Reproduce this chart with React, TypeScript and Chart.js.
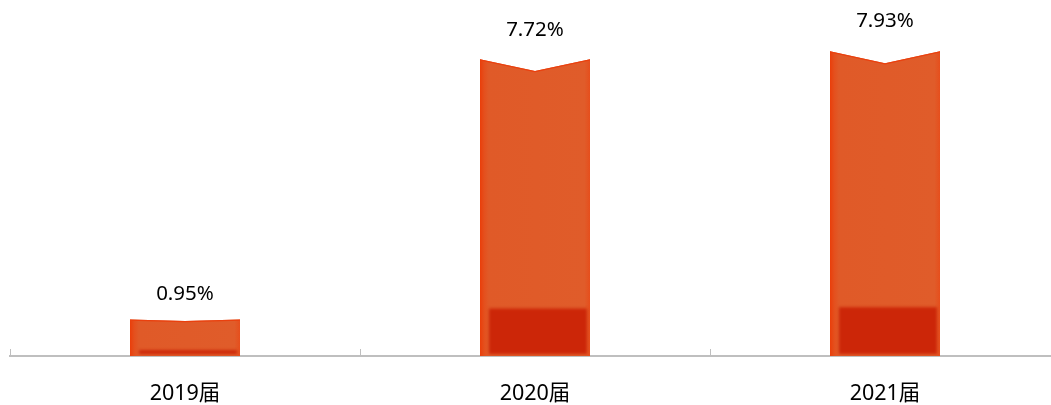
import React, { useEffect, useRef } from "react";
import { Chart, registerables } from "chart.js";
Chart.register(...registerables);

const categories = ["2019届", "2020届", "2021届"];
const values = [0.95, 7.72, 7.93];
const valueLabels = ["0.95%", "7.72%", "7.93%"];

const FONT = '"Noto Sans", "Noto Sans CJK SC", sans-serif';

export default function App() {
  const ref = useRef<HTMLCanvasElement>(null);
  useEffect(() => {
    document.body.style.margin = "0";
    const canvas = ref.current!;
    const barPlugin = {
      id: "notchedBars",
      afterDatasetsDraw(chart: any) {
        const ctx = chart.ctx as CanvasRenderingContext2D;
        const meta = chart.getDatasetMeta(0);
        const area = chart.chartArea;
        const xs = chart.scales.x;
        // tick marks pointing upward
        ctx.save();
        ctx.strokeStyle = "#BFBFBF";
        ctx.lineWidth = 1;
        const n = categories.length;
        const p0 = xs.getPixelForValue(0);
        const p1 = xs.getPixelForValue(1);
        const step = p1 - p0;
        for (let i = 0; i <= n; i++) {
          const px = Math.round(p0 - step / 2 + i * step) + 0.5;
          ctx.beginPath();
          ctx.moveTo(px, area.bottom - 7);
          ctx.lineTo(px, area.bottom);
          ctx.stroke();
        }
        ctx.restore();

        meta.data.forEach((bar: any, i: number) => {
          const { x, y, base, width } = bar.getProps(["x", "y", "base", "width"], true);
          const l = x - width / 2;
          const r = x + width / 2;
          const h = base - y;
          const notch = h * 0.04;
          ctx.save();
          ctx.beginPath();
          ctx.moveTo(l, base);
          ctx.lineTo(l, y);
          ctx.lineTo(x, y + notch);
          ctx.lineTo(r, y);
          ctx.lineTo(r, base);
          ctx.closePath();
          const g = ctx.createLinearGradient(l, 0, r, 0);
          g.addColorStop(0, "rgb(234,62,10)");
          g.addColorStop(0.04, "rgb(228,80,30)");
          g.addColorStop(0.08, "rgb(224,90,40)");
          g.addColorStop(0.95, "rgb(224,92,42)");
          g.addColorStop(1, "rgb(230,78,28)");
          ctx.fillStyle = g;
          ctx.fill();
          ctx.clip();
          // top edge
          ctx.beginPath();
          ctx.moveTo(l, y);
          ctx.lineTo(x, y + notch);
          ctx.lineTo(r, y);
          ctx.strokeStyle = "rgb(234,64,14)";
          ctx.lineWidth = 2.5;
          ctx.stroke();
          // dark bottom block
          const dh = h * 0.16;
          ctx.filter = "blur(1.5px)";
          ctx.fillStyle = "rgb(204,38,8)";
          ctx.fillRect(l + 9, base - dh, width - 12, dh - 2);
          ctx.filter = "none";
          ctx.restore();

          // value label
          ctx.save();
          ctx.fillStyle = "#000";
          ctx.font = `20.5px ${FONT}`;
          ctx.textAlign = "center";
          ctx.textBaseline = "middle";
          ctx.fillText(valueLabels[i], x, y - (24.5 + 0.017 * h));
          ctx.restore();
        });
      },
    };

    const chart = new Chart(canvas, {
      type: "bar",
      data: {
        labels: categories,
        datasets: [
          {
            data: values,
            backgroundColor: "rgba(0,0,0,0)",
            borderWidth: 0,
            barPercentage: 110 / 350,
            categoryPercentage: 1,
          },
        ],
      },
      options: {
        animation: false,
        responsive: false,
        maintainAspectRatio: false,
        layout: { padding: { top: 10, left: 10, right: 0, bottom: 0 } },
        plugins: { legend: { display: false }, tooltip: { enabled: false } },
        scales: {
          x: {
            grid: { display: true, drawOnChartArea: false, drawTicks: false, offset: true, color: "rgba(0,0,0,0)" },
            border: { display: true, color: "#BFBFBF", width: 2 },
            ticks: { color: "#000", font: { size: 21.5, family: FONT }, padding: 25 },
            afterFit: (s: any) => {
              s.height = 49;
            },
          },
          y: { display: false, min: 0, max: 9 },
        },
      },
      plugins: [barPlugin],
    });
    return () => chart.destroy();
  }, []);
  return (
    <div style={{ position: "fixed", left: 0, top: 0, width: 1051, height: 405, overflow: "hidden", background: "#fff" }}>
      <canvas ref={ref} width={1060} height={405} style={{ width: 1060, height: 405, display: "block" }} />
    </div>
  );
}
